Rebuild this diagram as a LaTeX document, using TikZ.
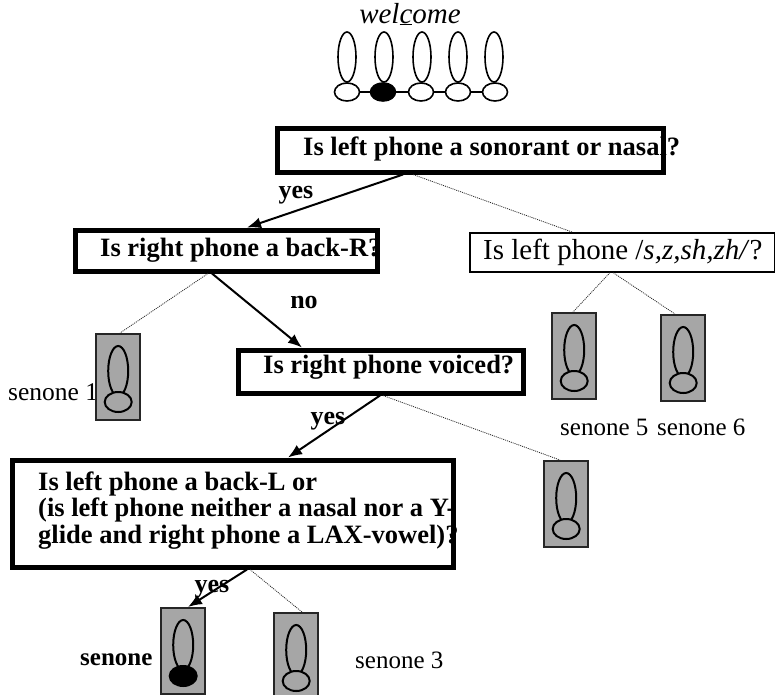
\documentclass[tikz,border=0pt]{standalone}
\usepackage{fontspec}
\setmainfont{Liberation Serif}
\usetikzlibrary{arrows.meta,calc,shapes.geometric}
\newcommand\mysenone[4]{%
  \node[senbox] (#1) at (#2,#3) {};
  \draw[oval] ($(#1.north)+(0,38)$) ellipse [x radius=10,y radius=25];
  \draw[oval,fill=#4] ($(#1.north)+(0,69)$) ellipse [x radius=13.5,y radius=10];
}
\begin{document}
\begin{tikzpicture}[x=1pt,y=-1pt,
  qbox/.style={draw,line width=5pt,anchor=north west,inner sep=0pt,rectangle},
  tbox/.style={draw,line width=1.6pt,anchor=north west,inner sep=0pt,rectangle},
  qtext/.style={anchor=base west,inner sep=0pt,font=\bfseries\fontsize{26.5}{30}\selectfont},
  ntext/.style={anchor=base west,inner sep=0pt,font=\fontsize{25}{30}\selectfont},
  lbl/.style={anchor=center,inner sep=0pt,font=\bfseries\fontsize{26}{30}\selectfont},
  senbox/.style={draw=black!85,line width=2.4pt,fill=gray!70,anchor=north west,inner sep=0pt,minimum width=44,minimum height=86},
  oval/.style={line width=2pt},
  tall/.style={draw,ellipse,line width=1.6pt,inner sep=0pt,minimum width=18,minimum height=50},
  foot/.style={draw,ellipse,line width=1.6pt,inner sep=0pt,minimum width=25,minimum height=18},
  yesarrow/.style={line width=2pt,-{Latex[length=14pt,width=11pt]}},
  dotline/.style={line width=0.8pt,dash pattern=on 1pt off 1pt,black!85},
]
\useasboundingbox (0,0) rectangle (775,694);

% top word and phone chain
\node[anchor=base,inner sep=0pt,font=\itshape\fontsize{29}{30}\selectfont] (word) at (410,23) {wel\underline{c}ome};
\foreach \i/\x in {1/347,2/384,3/422,4/458,5/494} {
  \node[tall] (h\i) at (\x,57) {};
}
\node[foot] (f1) at (347,92) {};
\node[foot,fill=black] (f2) at (383,92) {};
\node[foot] (f3) at (421,92) {};
\node[foot] (f4) at (458,92) {};
\node[foot] (f5) at (495,92) {};
\draw[line width=1.6pt] (f1) -- (f2) (f2) -- (f3) (f3) -- (f4) (f4) -- (f5);

% question texts
\node[qtext] (t1) at (303,155) {Is left phone a sonorant or nasal?};
\node[qtext] (t2) at (100,256) {Is right phone a back-R?};
\node[ntext,font=\fontsize{29}{30}\selectfont] (t3) at (483,259) {Is left phone /\textit{s,z,sh,zh/}?};
\node[qtext] (t4) at (263,373) {Is right phone voiced?};
\node[qtext] (t5a) at (38,490) {Is left phone a back-L or};
\node[qtext] (t5b) at (38,516.5) {(is left phone neither a nasal nor a Y-};
\node[qtext] (t5c) at (38,543) {glide and right phone a LAX-vowel)?};

% question boxes
\node[qbox,minimum width=386,minimum height=44] (box1) at (274.5,125.5) {};
\node[qbox,minimum width=302,minimum height=41] (box2) at (72.5,227.5) {};
\node[tbox,minimum width=305,minimum height=39] (box3) at (469,232) {};
\node[qbox,minimum width=285,minimum height=43] (box4) at (235.5,347.5) {};
\node[qbox,minimum width=441,minimum height=107] (box5) at (9.5,457.5) {};

% senone labels (drawn before the boxes that overlap them)
\node[ntext,font=\fontsize{25.5}{30}\selectfont] (l1) at (8,400) {senone 1};
\node[ntext] (l5) at (560,435) {senone 5};
\node[ntext] (l6) at (657,435) {senone 6};
\node[ntext,font=\bfseries\fontsize{25}{30}\selectfont] (l2) at (80,665) {senone};
\node[ntext] (l3) at (355,668) {senone 3};

% senone boxes
\mysenone{s1}{95}{333}{gray!70}
\mysenone{s5}{551}{312}{gray!70}
\mysenone{s6}{660}{314}{gray!70}
\mysenone{s4}{543}{460}{gray!70}
\mysenone{s2}{160}{607}{black}
\mysenone{s3}{273}{612}{gray!70}

% connectors
\draw[yesarrow] (box1.south -| 403,0) -- (box2.north -| 247,0);
\draw[dotline] (box1.south -| 413,0) -- (box3.north -| 572,0);
\draw[dotline] (box2.south -| 208,0) -- (s1.north -| 120,0);
\draw[yesarrow] (box2.south -| 212,0) -- (box4.north -| 302,0);
\draw[dotline] (box3.south -| 610,0) -- (s5.north -| 573,0);
\draw[dotline] (box3.south -| 613,0) -- (s6.north -| 675,0);
\draw[yesarrow] (box4.south -| 380,0) -- (box5.north -| 288,0);
\draw[dotline] (box4.south -| 383,0) -- (s4.north -| 560,0);
\draw[yesarrow] (box5.south -| 247,0) -- (s2.north -| 188,0);
\draw[dotline] (box5.south -| 250,0) -- (s3.north -| 302,0);

% branch labels
\node[lbl] (y1) at (296,195) {yes};
\node[lbl] (n1) at (304,302) {no};
\node[lbl] (y2) at (328,421) {yes};
\node[lbl] (y3) at (212,589) {yes};
\end{tikzpicture}
\end{document}
